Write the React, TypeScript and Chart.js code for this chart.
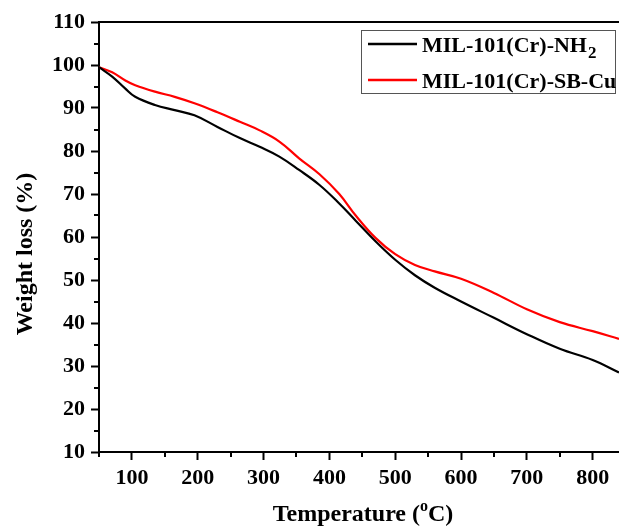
import React, { useEffect, useRef } from "react";
import { Chart, registerables } from "chart.js";

Chart.register(...registerables);

// Temperature (°C) sample points
const TEMP = [50, 70, 90, 105, 135, 165, 195, 230, 264, 294, 324, 354, 385, 415, 440, 470, 500, 530, 560, 600, 650, 700, 750, 800, 840];
// Weight loss (%) – MIL-101(Cr)-NH2
const NH2 = [99.5, 97.3, 94.5, 92.6, 90.7, 89.5, 88.3, 85.6, 83.0, 81.0, 78.7, 75.6, 72.1, 67.8, 63.8, 59.0, 54.7, 51.1, 48.2, 45.0, 41.2, 37.4, 34.0, 31.4, 28.5];
// Weight loss (%) – MIL-101(Cr)-SB-Cu
const SBCU = [99.5, 98.3, 96.4, 95.3, 93.8, 92.6, 91.1, 89.0, 86.8, 84.8, 82.2, 78.3, 74.6, 70.0, 65.0, 59.8, 56.0, 53.5, 52.0, 50.3, 47.0, 43.2, 40.2, 38.1, 36.3];

const X_TICKS = [100, 200, 300, 400, 500, 600, 700, 800];
const X_MINOR = [50, 150, 250, 350, 450, 550, 650, 750];
const Y_TICKS = [10, 20, 30, 40, 50, 60, 70, 80, 90, 100, 110];
const Y_MINOR = [15, 25, 35, 45, 55, 65, 75, 85, 95, 105];

const SERIES_NAMES = ["MIL-101(Cr)-NH", "MIL-101(Cr)-SB-Cu"];
const SERIES_SUBS = ["2", ""];
const SERIES_COLORS = ["#000000", "#ff0000"];

const X_TITLE = ["Temperature (", "o", "C)"];
const Y_TITLE = "Weight loss (%)";

const FONT = "'Liberation Serif', 'Times New Roman', serif";

const decorPlugin = {
  id: "decor",
  afterDraw(chart: any) {
    const { ctx, chartArea } = chart;
    const xs = chart.scales.x;
    const ys = chart.scales.y;
    ctx.save();
    ctx.strokeStyle = "#000";
    ctx.lineWidth = 2;
    // top frame line
    ctx.beginPath();
    ctx.moveTo(chartArea.left - 1, chartArea.top);
    ctx.lineTo(chartArea.right, chartArea.top);
    ctx.stroke();
    // minor ticks
    ctx.beginPath();
    X_MINOR.forEach((v) => {
      const px = Math.round(xs.getPixelForValue(v));
      ctx.moveTo(px, chartArea.bottom);
      ctx.lineTo(px, chartArea.bottom + 5);
    });
    Y_MINOR.forEach((v) => {
      const py = Math.round(ys.getPixelForValue(v));
      ctx.moveTo(chartArea.left - 5, py);
      ctx.lineTo(chartArea.left, py);
    });
    ctx.stroke();

    ctx.fillStyle = "#000";
    // x title with superscript
    const big = `bold 24px ${FONT}`;
    const small = `bold 16px ${FONT}`;
    ctx.font = big;
    const w1 = ctx.measureText(X_TITLE[0]).width;
    const w3 = ctx.measureText(X_TITLE[2]).width;
    ctx.font = small;
    const w2 = ctx.measureText(X_TITLE[1]).width;
    const total = w1 + w2 + w3;
    const x0 = 363 - total / 2;
    const base = 521;
    ctx.textBaseline = "alphabetic";
    ctx.textAlign = "left";
    ctx.font = big;
    ctx.fillText(X_TITLE[0], x0, base);
    ctx.font = small;
    ctx.fillText(X_TITLE[1], x0 + w1, base - 10);
    ctx.font = big;
    ctx.fillText(X_TITLE[2], x0 + w1 + w2, base);

    // y title
    ctx.save();
    ctx.translate(32, 254);
    ctx.rotate(-Math.PI / 2);
    ctx.font = big;
    ctx.textAlign = "center";
    ctx.textBaseline = "alphabetic";
    ctx.fillText(Y_TITLE, 0, 0);
    ctx.restore();

    // legend
    ctx.strokeStyle = "#555";
    ctx.lineWidth = 1;
    ctx.strokeRect(361.5, 30.5, 254, 63);
    const rows = [44, 80];
    SERIES_NAMES.forEach((name, i) => {
      const y = rows[i];
      ctx.strokeStyle = SERIES_COLORS[i];
      ctx.lineWidth = 2.5;
      ctx.beginPath();
      ctx.moveTo(368, y);
      ctx.lineTo(417, y);
      ctx.stroke();
      ctx.fillStyle = "#000";
      ctx.font = `bold 22px ${FONT}`;
      ctx.textAlign = "left";
      ctx.textBaseline = "alphabetic";
      ctx.fillText(name, 422, y + 8);
      if (SERIES_SUBS[i]) {
        const w = ctx.measureText(name).width;
        ctx.font = `bold 17px ${FONT}`;
        ctx.fillText(SERIES_SUBS[i], 422 + w + 1, y + 14);
      }
    });
    ctx.restore();
  },
};

export default function App() {
  const ref = useRef<HTMLCanvasElement | null>(null);
  useEffect(() => {
    if (!ref.current) return;
    const chart = new Chart(ref.current, {
      type: "line",
      data: {
        datasets: [
          {
            label: "MIL-101(Cr)-NH₂",
            data: TEMP.map((t, i) => ({ x: t, y: NH2[i] })),
            borderColor: SERIES_COLORS[0],
            borderWidth: 2.2,
            pointRadius: 0,
            tension: 0.4,
            fill: false,
          },
          {
            label: "MIL-101(Cr)-SB-Cu",
            data: TEMP.map((t, i) => ({ x: t, y: SBCU[i] })),
            borderColor: SERIES_COLORS[1],
            borderWidth: 2.2,
            pointRadius: 0,
            tension: 0.4,
            fill: false,
          },
        ],
      },
      options: {
        responsive: false,
        animation: false,
        devicePixelRatio: 1,
        layout: { padding: { top: 22, right: 0, left: 0, bottom: 0 } },
        plugins: { legend: { display: false }, tooltip: { enabled: false } },
        scales: {
          x: {
            type: "linear",
            min: 50,
            max: 840,
            afterBuildTicks: (s: any) => {
              s.ticks = X_TICKS.map((v) => ({ value: v }));
            },
            afterFit: (s: any) => {
              s.height = 76;
            },
            grid: { drawOnChartArea: false, tickLength: 8, tickWidth: 2, tickColor: "#000" },
            border: { display: true, color: "#000", width: 2 },
            ticks: {
              color: "#000",
              font: { family: FONT, size: 22, weight: "bold" },
              padding: 5,
              maxRotation: 0,
              autoSkip: false,
            },
            title: { display: false },
          },
          y: {
            type: "linear",
            min: 10,
            max: 110,
            afterBuildTicks: (s: any) => {
              s.ticks = Y_TICKS.map((v) => ({ value: v }));
            },
            afterFit: (s: any) => {
              s.width = 99;
            },
            grid: { drawOnChartArea: false, tickLength: 8, tickWidth: 2, tickColor: "#000" },
            border: { display: true, color: "#000", width: 2 },
            ticks: {
              color: "#000",
              font: { family: FONT, size: 22, weight: "bold" },
              padding: 6,
              autoSkip: false,
            },
            title: { display: false },
          },
        },
      },
      plugins: [decorPlugin],
    } as any);
    return () => chart.destroy();
  }, []);
  return (
    <div style={{ position: "fixed", left: 0, top: 0, width: 619, height: 528, background: "#fff" }}>
      <canvas ref={ref} width={619} height={528} style={{ display: "block" }} />
    </div>
  );
}
